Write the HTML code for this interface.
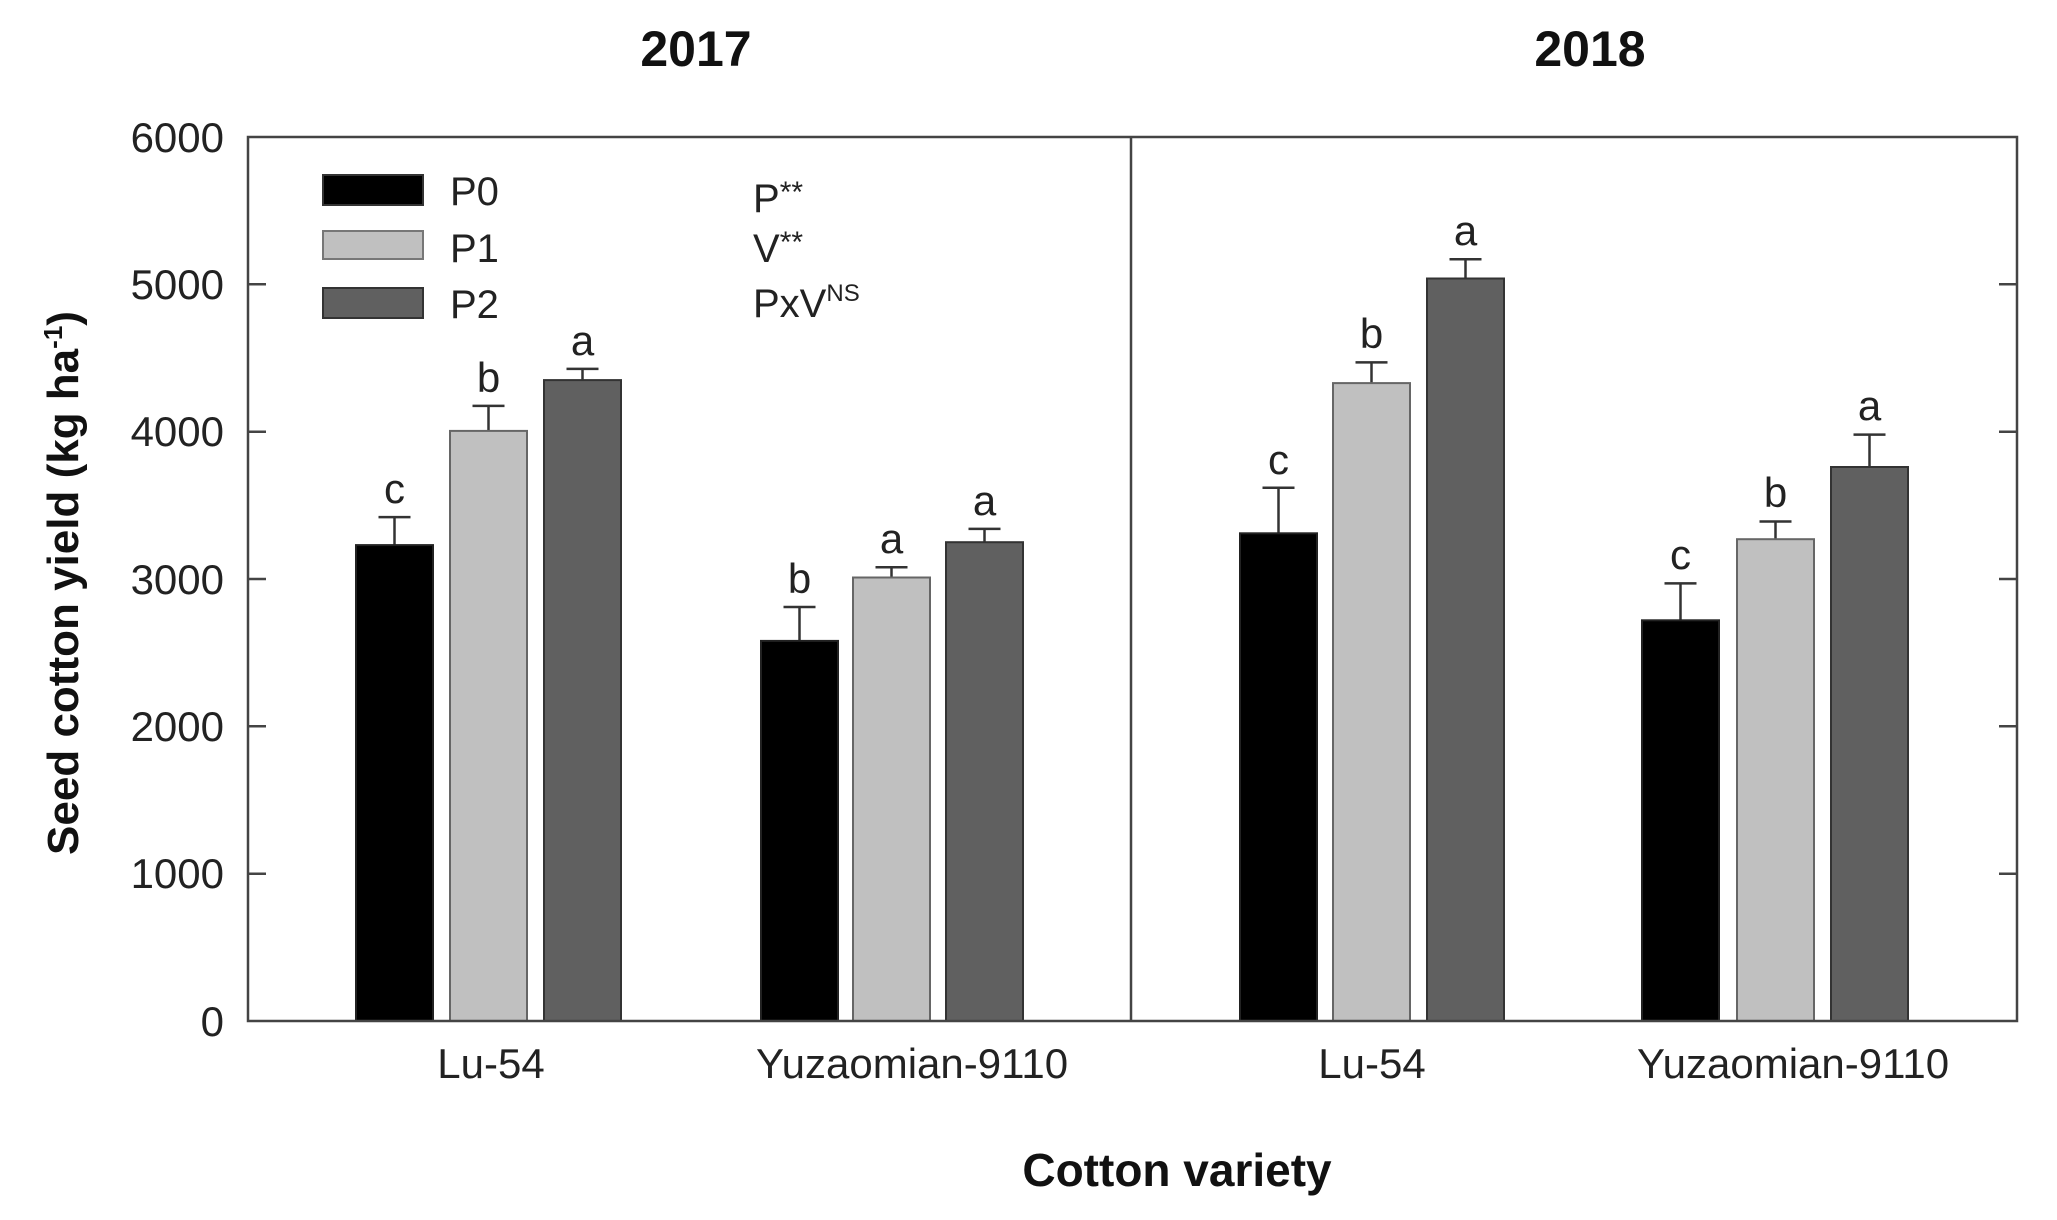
<!DOCTYPE html>
<html><head><meta charset="utf-8"><style>html,body{margin:0;padding:0;background:#fff}svg{display:block}</style></head>
<body>
<svg width="2057" height="1220" viewBox="0 0 2057 1220" xmlns="http://www.w3.org/2000/svg" font-family="Liberation Sans, Arial, sans-serif">
<rect width="2057" height="1220" fill="#fff"/>
<g stroke="#333" stroke-width="2.5">
<line x1="394.5" y1="545.1" x2="394.5" y2="517.1"/><line x1="378.5" y1="517.1" x2="410.5" y2="517.1"/>
<line x1="488.5" y1="430.9" x2="488.5" y2="405.9"/><line x1="472.5" y1="405.9" x2="504.5" y2="405.9"/>
<line x1="582.5" y1="380.1" x2="582.5" y2="368.9"/><line x1="566.5" y1="368.9" x2="598.5" y2="368.9"/>
<line x1="799.5" y1="640.9" x2="799.5" y2="607.0"/><line x1="783.5" y1="607.0" x2="815.5" y2="607.0"/>
<line x1="891.5" y1="577.5" x2="891.5" y2="567.2"/><line x1="875.5" y1="567.2" x2="907.5" y2="567.2"/>
<line x1="984.5" y1="542.2" x2="984.5" y2="528.9"/><line x1="968.5" y1="528.9" x2="1000.5" y2="528.9"/>
<line x1="1278.5" y1="533.3" x2="1278.5" y2="487.7"/><line x1="1262.5" y1="487.7" x2="1294.5" y2="487.7"/>
<line x1="1371.5" y1="383.1" x2="1371.5" y2="362.4"/><line x1="1355.5" y1="362.4" x2="1387.5" y2="362.4"/>
<line x1="1465.5" y1="278.5" x2="1465.5" y2="259.3"/><line x1="1449.5" y1="259.3" x2="1481.5" y2="259.3"/>
<line x1="1680.5" y1="620.3" x2="1680.5" y2="583.4"/><line x1="1664.5" y1="583.4" x2="1696.5" y2="583.4"/>
<line x1="1775.5" y1="539.2" x2="1775.5" y2="521.5"/><line x1="1759.5" y1="521.5" x2="1791.5" y2="521.5"/>
<line x1="1869.5" y1="467.0" x2="1869.5" y2="434.6"/><line x1="1853.5" y1="434.6" x2="1885.5" y2="434.6"/>
</g>
<g stroke-width="2">
<rect x="356" y="545.1" width="77" height="475.9" fill="#000" stroke="#222"/>
<rect x="450" y="430.9" width="77" height="590.1" fill="#c0c0c0" stroke="#666"/>
<rect x="544" y="380.1" width="77" height="640.9" fill="#606060" stroke="#333"/>
<rect x="761" y="640.9" width="77" height="380.1" fill="#000" stroke="#222"/>
<rect x="853" y="577.5" width="77" height="443.5" fill="#c0c0c0" stroke="#666"/>
<rect x="946" y="542.2" width="77" height="478.8" fill="#606060" stroke="#333"/>
<rect x="1240" y="533.3" width="77" height="487.7" fill="#000" stroke="#222"/>
<rect x="1333" y="383.1" width="77" height="637.9" fill="#c0c0c0" stroke="#666"/>
<rect x="1427" y="278.5" width="77" height="742.5" fill="#606060" stroke="#333"/>
<rect x="1642" y="620.3" width="77" height="400.7" fill="#000" stroke="#222"/>
<rect x="1737" y="539.2" width="77" height="481.8" fill="#c0c0c0" stroke="#666"/>
<rect x="1831" y="467.0" width="77" height="554.0" fill="#606060" stroke="#333"/>
</g>
<g font-size="42" fill="#222" text-anchor="middle">
<text x="394.5" y="503">c</text><text x="488.5" y="392">b</text><text x="582.5" y="355">a</text>
<text x="799.5" y="593">b</text><text x="891.5" y="553">a</text><text x="984.5" y="515">a</text>
<text x="1278.5" y="474">c</text><text x="1371.5" y="348">b</text><text x="1465.5" y="245">a</text>
<text x="1680.5" y="569">c</text><text x="1775.5" y="507">b</text><text x="1869.5" y="420">a</text>
</g>
<rect x="248" y="137" width="1769" height="884" fill="none" stroke="#444" stroke-width="2.5"/>
<line x1="1131" y1="137" x2="1131" y2="1021" stroke="#444" stroke-width="2.5"/>
<g stroke="#444" stroke-width="2.5">
<line x1="248" y1="284.3" x2="266" y2="284.3"/><line x1="248" y1="431.7" x2="266" y2="431.7"/><line x1="248" y1="579" x2="266" y2="579"/><line x1="248" y1="726.3" x2="266" y2="726.3"/><line x1="248" y1="873.7" x2="266" y2="873.7"/>
<line x1="1999" y1="284.3" x2="2017" y2="284.3"/><line x1="1999" y1="431.7" x2="2017" y2="431.7"/><line x1="1999" y1="579" x2="2017" y2="579"/><line x1="1999" y1="726.3" x2="2017" y2="726.3"/><line x1="1999" y1="873.7" x2="2017" y2="873.7"/>
</g>
<g font-size="42" fill="#222" text-anchor="end">
<text x="224" y="152">6000</text><text x="224" y="299">5000</text><text x="224" y="446">4000</text><text x="224" y="594">3000</text><text x="224" y="741">2000</text><text x="224" y="888">1000</text><text x="224" y="1036">0</text>
</g>
<g font-size="42" fill="#222" text-anchor="middle">
<text x="491" y="1078">Lu-54</text><text x="912" y="1078">Yuzaomian-9110</text>
<text x="1372" y="1078">Lu-54</text><text x="1793" y="1078">Yuzaomian-9110</text>
</g>
<g font-size="50" font-weight="bold" fill="#111" text-anchor="middle">
<text x="696" y="66">2017</text><text x="1590" y="66">2018</text>
<text x="1177" y="1186" font-size="46">Cotton variety</text>
</g>
<text transform="translate(78,583) rotate(-90)" font-size="44" font-weight="bold" fill="#111" text-anchor="middle">Seed cotton yield (kg ha<tspan dy="-16" font-size="26">-1</tspan><tspan dy="16">)</tspan></text>
<rect x="323" y="175" width="100" height="30" fill="#000" stroke="#333" stroke-width="2"/>
<rect x="323" y="231" width="100" height="28" fill="#c0c0c0" stroke="#777" stroke-width="2"/>
<rect x="323" y="288" width="100" height="30" fill="#606060" stroke="#333" stroke-width="2"/>
<g font-size="40" fill="#222">
<text x="450" y="205">P0</text><text x="450" y="262">P1</text><text x="450" y="318">P2</text>
<text x="753" y="212">P<tspan font-size="30" dy="-10">**</tspan></text>
<text x="753" y="262">V<tspan font-size="30" dy="-10">**</tspan></text>
<text x="753" y="317">PxV<tspan font-size="24" dy="-16">NS</tspan></text>
</g>
</svg>
</body></html>
